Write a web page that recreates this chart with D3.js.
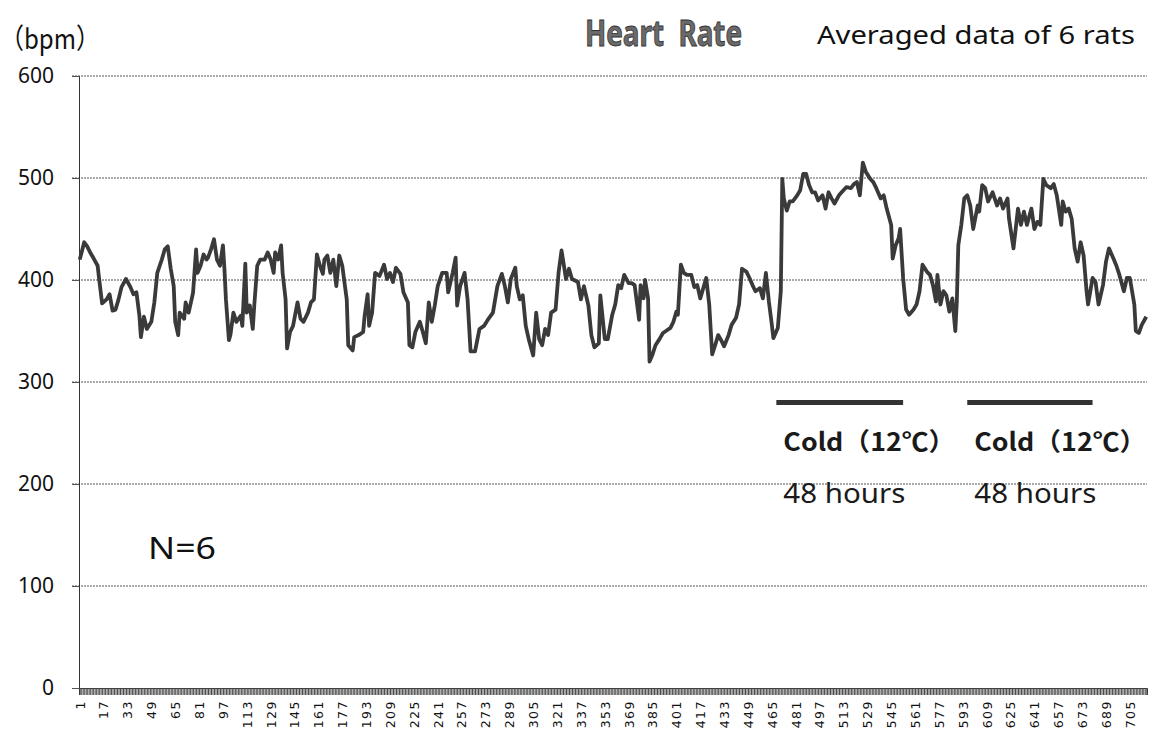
<!DOCTYPE html>
<html>
<head>
<meta charset="utf-8">
<script src="https://cdn.jsdelivr.net/npm/d3@7"></script>
<style>
  body { margin: 0; background: #fff; }
  svg text { font-family: "Noto Sans", "Open Sans", sans-serif; }
</style>
</head>
<body>
<div id="chart"></div>
<script>
"use strict";

// sample numbers (x category) and averaged heart rate
var sampleAt = [
  1, 4, 6, 8, 10, 13, 14, 16, 19, 21, 23, 25, 27, 29, 32, 35, 37, 39, 41, 42, 44, 46, 49, 51, 53, 56, 58, 60, 62, 64,
  65, 67, 68, 71, 72, 74, 76, 77, 79, 80, 82, 84, 86, 87, 89, 91, 93, 95, 97, 98, 99, 101, 102, 104, 106, 109, 110, 112, 113, 115,
  117, 118, 120, 122, 125, 127, 129, 131, 132, 134, 136, 137, 139, 140, 142, 144, 147, 149, 151, 154, 156, 158, 160, 162, 164, 165, 167, 169, 171, 173,
  175, 177, 180, 181, 184, 185, 188, 191, 192, 194, 195, 197, 199, 202, 205, 207, 209, 211, 213, 216, 218, 221, 222, 224, 226, 229, 231, 233, 235, 237,
  239, 241, 244, 247, 248, 251, 253, 254, 256, 259, 261, 263, 266, 269, 272, 275, 278, 281, 284, 286, 288, 290, 293, 294, 296, 298, 300, 302, 305, 307,
  309, 311, 313, 315, 317, 320, 322, 324, 327, 329, 331, 335, 337, 339, 342, 344, 346, 349, 350, 353, 355,
  358, 360, 362, 364, 366, 369, 371, 373, 376, 377, 379, 380, 382, 383, 385, 387, 390, 392, 394, 397, 399, 401, 402, 404, 406, 408, 411, 413, 415, 417,
  419, 421, 423, 425, 427, 429, 431, 433, 436, 438, 441, 443, 445, 448, 450, 452, 454, 457, 459, 461, 463, 465, 466, 469, 471, 472, 473, 475, 477, 479,
  482, 484, 486, 488, 490, 492, 494, 496, 499, 501, 503, 505, 507, 510, 513, 515, 518, 520, 522, 524, 526, 528, 531, 533, 535, 538, 540, 542, 545, 546,
  548, 550, 551, 553, 555, 557, 560, 562, 564, 566, 569, 571, 573, 575, 576, 578, 580, 582, 584, 586, 588, 589, 590, 592, 594, 596, 598, 600, 603, 604,
  606, 608, 610, 613, 616, 618, 620, 623, 624, 627, 630, 632, 634, 636, 639, 641, 643, 645, 647, 649, 652, 654, 656, 659, 660, 662, 664, 666, 668, 670,
  672, 674, 676, 677, 680, 682, 684, 687, 689, 691, 694, 696, 698, 701, 703, 705, 708, 709, 711, 713, 716
];
var heartRate = [
  420, 437, 433, 427, 422, 414, 401, 377, 381, 386, 370, 371, 381, 393, 401, 393, 386, 388, 365, 344, 364, 352, 359, 378, 407, 420, 430, 433, 411, 394,
  359, 346, 368, 362, 378, 368, 381, 388, 430, 407, 414, 425, 420, 422, 430, 440, 420, 414, 434, 411, 381, 341, 346, 368, 359, 365, 355, 416, 368, 375,
  352, 375, 414, 420, 420, 427, 420, 407, 427, 420, 434, 407, 381, 333, 349, 355, 378, 362, 359, 368, 378, 381, 425, 414, 406, 420, 424, 407, 420, 394,
  424, 414, 381, 336, 331, 344, 346, 349, 365, 386, 355, 368, 407, 404, 415, 401, 407, 398, 412, 406, 388, 378, 336, 334, 349, 359, 349, 338, 378, 359,
  375, 394, 407, 407, 388, 407, 422, 375, 394, 407, 381, 330, 330, 352, 355, 362, 368, 394, 406, 394, 378, 401, 412, 394, 381, 385, 355, 342, 326, 368,
  342, 336, 352, 346, 368, 371, 407, 429, 401, 411, 401, 398, 381, 394, 375, 346, 334, 338, 385, 342, 342,
  366, 376, 395, 392, 405, 397, 397, 395, 361, 395, 382, 400, 382, 320, 327, 336, 343, 348, 350, 353, 359, 369, 366, 415, 407, 405, 405, 393, 395, 382,
  392, 402, 376, 327, 336, 346, 341, 335, 346, 356, 363, 376, 411, 408, 402, 395, 389, 392, 382, 407, 379, 356, 343, 353, 389, 499, 480, 468, 477, 477,
  483, 488, 504, 504, 493, 486, 486, 478, 483, 470, 486, 480, 475, 483, 488, 491, 490, 494, 496, 483, 515, 506, 499, 496, 490, 480, 483, 470, 454, 421,
  434, 441, 450, 402, 371, 366, 371, 376, 389, 415, 408, 405, 395, 379, 405, 376, 389, 385, 369, 382, 350, 379, 434, 454, 480, 483, 473, 450, 473, 467,
  493, 490, 477, 486, 473, 480, 470, 480, 460, 431, 470, 454, 467, 454, 470, 450, 457, 454, 499, 493, 490, 494, 483, 454, 477, 467, 470, 460, 431, 418,
  437, 424, 389, 376, 402, 398, 376, 395, 418, 431, 421, 414, 405, 389, 402, 402, 376, 350, 348, 356, 364
];

var categoryCount = 716;
var xTickLabels = [1, 17, 33, 49, 65, 81, 97, 113, 129, 145, 161, 177, 193, 209, 225, 241, 257, 273, 289, 305,
  321, 337, 353, 369, 385, 401, 417, 433, 449, 465, 481, 497, 513, 529, 545, 561, 577, 593, 609, 625,
  641, 657, 673, 689, 705];
var yTicks = [0, 100, 200, 300, 400, 500, 600];

// cold exposure periods (start / end sample) and the level where the bar sits
var coldStart = [468, 596];
var coldEnd = [553, 680];
var coldLevel = 280;

function drawChart() {
    var w = 1164;
    var h = 731;
    var left = 79, right = 1147, top = 76, bottom = 688;

    var svg = d3.select("#chart")
                .append("svg")
                .attr("width", w)
                .attr("height", h);

    var x = d3.scalePoint()
              .domain(d3.range(1, categoryCount + 1))
              .range([left, right])
              .padding(0.5);

    var y = d3.scaleLinear()
              .domain([0, 600])
              .range([bottom, top]);

    // dotted gridlines
    svg.append("g")
       .selectAll("line")
       .data(yTicks.filter(function(d){ return d > 0; }))
       .enter()
       .append("line")
       .attr("x1", left - 7)
       .attr("x2", right)
       .attr("y1", function(d){ return y(d); })
       .attr("y2", function(d){ return y(d); })
       .attr("stroke", "#555")
       .attr("stroke-width", 1)
       .attr("stroke-dasharray", "2,1");

    // y axis
    var yAxis = svg.append("g")
       .attr("transform", "translate(" + left + ",0)")
       .call(d3.axisLeft(y).tickValues(yTicks).tickSize(7).tickPadding(18));
    yAxis.select(".domain").attr("stroke", "#333");
    yAxis.selectAll(".tick line").attr("stroke", "#555");
    yAxis.selectAll("text")
         .attr("font-size", 21)
         .attr("fill", "#111")
         .style("font-family", "'Noto Sans', sans-serif");

    // dense category tick band along the bottom
    var band = svg.append("g")
       .attr("transform", "translate(0," + bottom + ")")
       .call(d3.axisBottom(x).tickValues(x.domain()).tickSize(7).tickFormat(""));
    band.select(".domain").attr("stroke", "#333");
    band.selectAll(".tick line").attr("stroke", "#4a4a4a");

    // x tick labels, rotated
    var xLab = svg.append("g")
       .attr("transform", "translate(0," + bottom + ")")
       .call(d3.axisBottom(x).tickValues(xTickLabels).tickSize(0).tickPadding(0));
    xLab.select(".domain").remove();
    xLab.selectAll("text")
        .attr("transform", "rotate(-90)")
        .attr("x", -12)
        .attr("y", 0)
        .attr("dy", "0.35em")
        .attr("text-anchor", "end")
        .attr("font-size", 12.5)
        .attr("letter-spacing", 1.5)
        .attr("fill", "#111")
        .style("font-family", "'DejaVu Sans', sans-serif");

    // heart rate line
    var points = sampleAt.map(function(d, i){ return [d, heartRate[i]]; });
    var line = d3.line()
                 .x(function(d){ return x(d[0]); })
                 .y(function(d){ return y(d[1]); });
    svg.append("path")
       .datum(points)
       .attr("d", line)
       .attr("fill", "none")
       .attr("stroke", "#3a3a3a")
       .attr("stroke-width", 3.8)
       .attr("stroke-linejoin", "round");

    // cold period bars
    svg.selectAll("line.cold")
       .data(coldStart)
       .enter()
       .append("line")
       .attr("class", "cold")
       .attr("x1", function(d){ return x(d); })
       .attr("x2", function(d, i){ return x(coldEnd[i]); })
       .attr("y1", y(coldLevel))
       .attr("y2", y(coldLevel))
       .attr("stroke", "#333")
       .attr("stroke-width", 5);

    var cold = svg.selectAll("g.coldtext")
       .data(coldStart)
       .enter()
       .append("g")
       .attr("class", "coldtext")
       .attr("transform", function(d){ return "translate(" + (x(d) + 7) + ",0)"; });
    cold.append("text")
        .attr("y", 451)
        .attr("font-size", 25)
        .attr("font-weight", "bold")
        .attr("fill", "#1a1a1a")
        .attr("textLength", 172)
        .attr("lengthAdjust", "spacingAndGlyphs")
        .style("font-family", "'Noto Sans CJK JP', sans-serif")
        .text("Cold（12℃）");
    cold.append("text")
        .attr("y", 503)
        .attr("font-size", 27)
        .attr("fill", "#1a1a1a")
        .attr("textLength", 122)
        .attr("lengthAdjust", "spacingAndGlyphs")
        .text("48 hours");

    // titles and notes
    svg.append("text")
       .attr("x", 0)
       .attr("y", 49)
       .attr("font-size", 28)
       .attr("fill", "#111")
       .attr("textLength", 100)
       .attr("lengthAdjust", "spacingAndGlyphs")
       .style("font-family", "'Noto Sans CJK JP', sans-serif")
       .text("（bpm）");

    svg.append("text")
       .attr("x", 585)
       .attr("y", 46)
       .attr("font-size", 35)
       .attr("font-weight", "bold")
       .attr("fill", "#6a6a6a")
       .attr("stroke", "#333")
       .attr("stroke-width", 0.9)
       .attr("textLength", 157)
       .attr("lengthAdjust", "spacingAndGlyphs")
       .attr("xml:space", "preserve")
       .text("Heart  Rate");

    svg.append("text")
       .attr("x", 817)
       .attr("y", 44)
       .attr("font-size", 25)
       .attr("fill", "#111")
       .attr("textLength", 318)
       .attr("lengthAdjust", "spacingAndGlyphs")
       .text("Averaged data of 6 rats");

    svg.append("text")
       .attr("x", 148)
       .attr("y", 559)
       .attr("font-size", 31)
       .attr("fill", "#111")
       .attr("textLength", 68)
       .attr("lengthAdjust", "spacingAndGlyphs")
       .text("N=6");
}

window.onload = drawChart;
</script>
</body>
</html>
